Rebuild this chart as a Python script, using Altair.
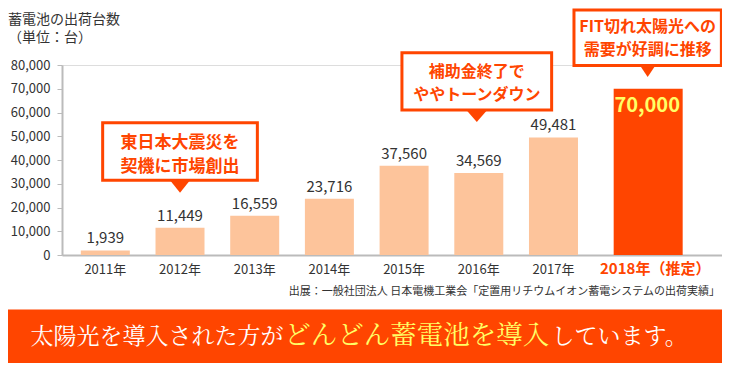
import altair as alt
import pandas as pd

# ---------------- data ----------------
years = ["2011年", "2012年", "2013年", "2014年", "2015年", "2016年", "2017年", "2018年（推定）"]
shipments = [1939, 11449, 16559, 23716, 37560, 34569, 49481, 70000]
y_ticks = [0, 10000, 20000, 30000, 40000, 50000, 60000, 70000, 80000]
estimate_year = "2018年（推定）"
title_lines = ["蓄電池の出荷台数", "（単位：台）"]
callout_years = ["2012年", "2016年", "2018年（推定）"]
callout_line1 = ["東日本大震災を", "補助金終了で", "FIT切れ太陽光への"]
callout_line2 = ["契機に市場創出", "ややトーンダウン", "需要が好調に推移"]
source_note = "出展：一般社団法人 日本電機工業会「定置用リチウムイオン蓄電システムの出荷実績」"
banner_parts = ["太陽光を導入された方が", "どんどん蓄電池を導入", "しています。"]

# ---------------- style ----------------
PEACH = "#FDC49B"
RED = "#FF4500"
YELLOW = "#FFFF66"
TEXT = "#333333"
AXIS = "#BBBBBB"
FONT = "Noto Sans CJK JP"
SERIF = "'Noto Serif CJK JP', 'Noto Sans CJK JP', serif"

W, H = 660, 190
EST_SHIFT = 20

df = pd.DataFrame({"year": years, "value": shipments})
is_est = f"datum.year == '{estimate_year}'"
not_est = f"datum.year != '{estimate_year}'"

x_scale = alt.Scale(domain=years, paddingInner=0.344, paddingOuter=0.59, align=0.2135)
x_enc = alt.X("year:N", sort=years, scale=x_scale,
              axis=alt.Axis(title=None, labels=False, ticks=False,
                            domainColor=AXIS, domainWidth=2))
y_enc = alt.Y("value:Q", scale=alt.Scale(domain=[0, 80000], nice=False, zero=True),
              axis=alt.Axis(title=None, values=y_ticks, format=",.0f", grid=False,
                            domainColor=AXIS, domainWidth=2, tickColor=AXIS,
                            tickSize=5, tickWidth=1, labelFontSize=13,
                            labelColor=TEXT, labelPadding=7, labelFont=FONT))

base = alt.Chart(df)

bars = base.transform_filter(not_est).mark_bar(color=PEACH).encode(x=x_enc, y=y_enc)
est_bar = base.transform_filter(is_est).mark_bar(color=RED, width=69, xOffset=EST_SHIFT).encode(x=x_enc, y=y_enc)

value_labels = base.transform_filter(not_est).mark_text(
    baseline="alphabetic", dy=-7, fontSize=15, color=TEXT, font=FONT
).encode(x=x_enc, y=y_enc, text=alt.Text("value:Q", format=",.0f"))

est_label = base.transform_filter(is_est).mark_text(
    baseline="alphabetic", dy=23.5, dx=19, fontSize=20, fontWeight="bold", color=YELLOW, font=FONT
).encode(x=x_enc, y=y_enc, text=alt.Text("value:Q", format=",.0f"))

x_labels = base.transform_filter(not_est).mark_text(
    baseline="middle", fontSize=13, color=TEXT, font=FONT
).encode(x=x_enc, y=alt.value(204.5), text="year:N")

x_label_est = base.transform_filter(is_est).mark_text(
    baseline="middle", fontSize=15, fontWeight="bold", color=RED, font=FONT, dx=27
).encode(x=x_enc, y=alt.value(203.5), text="year:N")

layers = [bars, est_bar, value_labels, est_label, x_labels, x_label_est]

# callouts: (xOffset, box center y, box w, box h, triangle top, triangle h, triangle w, text y1, text y2, font size)
geom = [
    (0, 86.5, 154.7, 57.4, 115.3, 12.4, 21.6, 78.0, 101.9, 17),
    (-2, 16.4, 149.7, 57.4, 45.1, 11.8, 22.6, 7.1, 29.9, 16),
    (19.5, -27.35, 147.4, 55.5, 0.4, 11.5, 16.7, -37.55, -14.75, 16),
]
for yr, l1, l2, g in zip(callout_years, callout_line1, callout_line2, geom):
    xo, cy, bw, bh, tt, th, tw, ty1, ty2, fs = g
    cdf = pd.DataFrame({"year": [yr], "l1": [l1], "l2": [l2]})
    r = bh / bw
    box_path = f"M-1,{-r:.4f}L1,{-r:.4f}L1,{r:.4f}L-1,{r:.4f}Z"
    k = 2 * (th + 1) / tw
    tri_path = f"M-1,0L1,0L0,{k:.4f}Z"
    c = alt.Chart(cdf)
    layers.append(c.mark_point(shape=box_path, size=bw * bw, filled=True, fill="white",
                               stroke=RED, strokeWidth=3, opacity=1, fillOpacity=1,
                               strokeOpacity=1, xOffset=xo)
                  .encode(x=x_enc, y=alt.value(cy)))
    layers.append(c.mark_point(shape=tri_path, size=tw * tw, filled=True, color=RED,
                               strokeWidth=0, opacity=1, xOffset=xo)
                  .encode(x=x_enc, y=alt.value(tt - 1)))
    for col, ty in (("l1", ty1), ("l2", ty2)):
        layers.append(c.mark_text(align="center", baseline="middle", fontSize=fs,
                                  fontWeight="bold", color=RED, font=FONT, dx=xo)
                      .encode(x=x_enc, y=alt.value(ty), text=f"{col}:N"))

# title
for line, ty in zip(title_lines, [-45.5, -27]):
    layers.append(alt.Chart(pd.DataFrame({"t": [line]})).mark_text(
        align="left", baseline="middle", fontSize=14, color=TEXT, font=FONT
    ).encode(x=alt.value(-54), y=alt.value(ty), text="t:N"))

# source
layers.append(alt.Chart(pd.DataFrame({"t": [source_note]})).mark_text(
    align="right", baseline="middle", fontSize=11, color=TEXT, font=FONT
).encode(x=alt.value(658), y=alt.value(227), text="t:N"))

# banner
layers.append(alt.Chart(pd.DataFrame({"a": [0]})).mark_rect(color=RED).encode(
    x=alt.value(-54), x2=alt.value(W), y=alt.value(244.5), y2=alt.value(298)))
for part, px, fs, col in zip(banner_parts, [-31.4, 222.2, 489.6], [23, 26.5, 23], ["white", YELLOW, "white"]):
    layers.append(alt.Chart(pd.DataFrame({"t": [part]})).mark_text(
        align="left", baseline="alphabetic", fontSize=fs, color=col, font=SERIF
    ).encode(x=alt.value(px), y=alt.value(279), text="t:N"))

chart = alt.layer(*layers).properties(
    width=W, height=H,
    autosize=alt.AutoSizeParams(type="none"),
    padding={"left": 54, "top": 57, "right": 0, "bottom": 108},
).configure_view(stroke=None).configure(font=FONT, background="white")

chart.save("out.html", embed_options={"renderer": "svg", "actions": False})
